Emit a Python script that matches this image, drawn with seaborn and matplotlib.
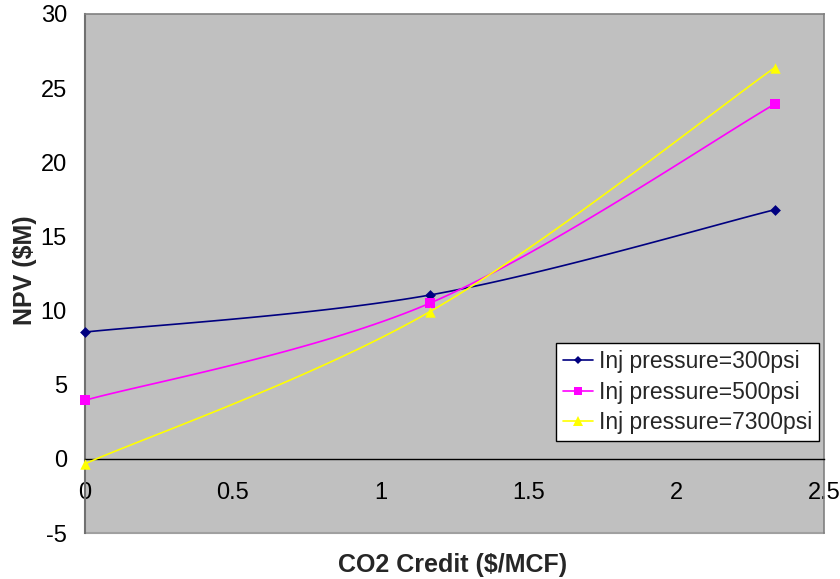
import numpy as np
import matplotlib
matplotlib.use("Agg")
import matplotlib.pyplot as plt
import seaborn as sns
import pandas as pd
from matplotlib.lines import Line2D

# ---- data ----
co2_credit = [0.0, 1.167, 2.333]
npv_300 = [8.55, 11.05, 16.8]
npv_500 = [3.95, 10.5, 23.92]
npv_7300 = [-0.33, 9.93, 26.38]
series_names = ["Inj pressure=300psi", "Inj pressure=500psi", "Inj pressure=7300psi"]
x_ticks = [0, 0.5, 1, 1.5, 2, 2.5]
y_ticks = [-5, 0, 5, 10, 15, 20, 25, 30]

colors = ["#000080", "#FF00FF", "#FFFF00"]
markers = ["D", "s", "^"]
msizes = [5.5, 6.5, 7.5]


def smooth(xs, ys, n=40):
    """Excel-like smoothed line: cubic Bezier with Catmull-Rom control points."""
    P = np.column_stack([xs, ys]).astype(float)
    out = [P[0]]
    t = np.linspace(0, 1, n)[1:]
    for i in range(len(P) - 1):
        p0 = P[max(i - 1, 0)]
        p1 = P[i]
        p2 = P[i + 1]
        p3 = P[min(i + 2, len(P) - 1)]
        c1 = p1 + (p2 - p0) / 6.0
        c2 = p2 - (p3 - p1) / 6.0
        for tt in t:
            b = ((1 - tt) ** 3) * p1 + 3 * ((1 - tt) ** 2) * tt * c1 + 3 * (1 - tt) * tt ** 2 * c2 + tt ** 3 * p2
            out.append(b)
    out = np.array(out)
    return out[:, 0], out[:, 1]


sns.set_style("white")
plt.rcParams["font.family"] = ["Liberation Sans", "DejaVu Sans"]

fig = plt.figure(figsize=(8.4, 5.79), dpi=100)
ax = fig.add_axes([85 / 840, 1 - 533 / 579, 739 / 840, 519 / 579])
ax.set_facecolor("#C0C0C0")

handles = []
for ys, name, c, m, ms in zip([npv_300, npv_500, npv_7300], series_names, colors, markers, msizes):
    sx, sy = smooth(co2_credit, ys)
    df_line = pd.DataFrame({"x": sx, "y": sy})
    sns.lineplot(data=df_line, x="x", y="y", sort=False, color=c, linewidth=1.2, ax=ax, zorder=3)
    df_pts = pd.DataFrame({"x": co2_credit, "y": ys})
    sns.scatterplot(data=df_pts, x="x", y="y", marker=m, s=ms ** 2, color=c, edgecolor=c,
                    linewidth=0, ax=ax, zorder=4, clip_on=False)
    handles.append(Line2D([], [], color=c, marker=m, markersize=ms - 1, linewidth=1.2,
                          markeredgewidth=0, label=name))

ax.set_xlim(0, 2.5)
ax.set_ylim(-5, 30)
ax.set_xticks(x_ticks)
ax.set_xticklabels([f"{v:g}" for v in x_ticks])
ax.set_yticks(y_ticks)
ax.set_yticklabels([f"{v:g}" for v in y_ticks])
ax.set_xlabel("")
ax.set_ylabel("")

# spines
ax.spines["bottom"].set_position(("data", 0))
ax.spines["bottom"].set_color("black")
ax.spines["bottom"].set_linewidth(1.0)
ax.spines["left"].set_color("#707070")
ax.spines["left"].set_linewidth(1.5)
ax.spines["top"].set_color("#808080")
ax.spines["right"].set_color("#808080")
ax.spines["top"].set_linewidth(1.2)
ax.spines["right"].set_linewidth(1.2)
ax.axhline(-5, color="#A0A0A0", linewidth=1.5, zorder=1, clip_on=False)

ax.tick_params(axis="both", labelsize=17, colors="black", length=5, width=1, direction="out")
ax.tick_params(axis="y", pad=8)
ax.tick_params(axis="x", pad=11.5)

fig.text(453 / 840, 1 - 565 / 579, "CO2 Credit ($/MCF)", ha="center", va="center",
         fontsize=18, fontweight="bold")
fig.text(25 / 840, 1 - 270 / 579, "NPV ($M)", ha="center", va="center", rotation=90,
         fontsize=18, fontweight="bold")

leg = ax.legend(handles=handles, loc="lower right", bbox_to_anchor=(0.993, 0.177),
                fontsize=16.5, frameon=True, fancybox=False, borderpad=0.3,
                labelspacing=0.33, handlelength=1.3, handletextpad=0.25, borderaxespad=0)
leg.get_frame().set_edgecolor("black")
leg.get_frame().set_facecolor("white")
leg.get_frame().set_linewidth(1.0)
leg.get_frame().set_alpha(1)

fig.savefig("out.png", dpi=100)
